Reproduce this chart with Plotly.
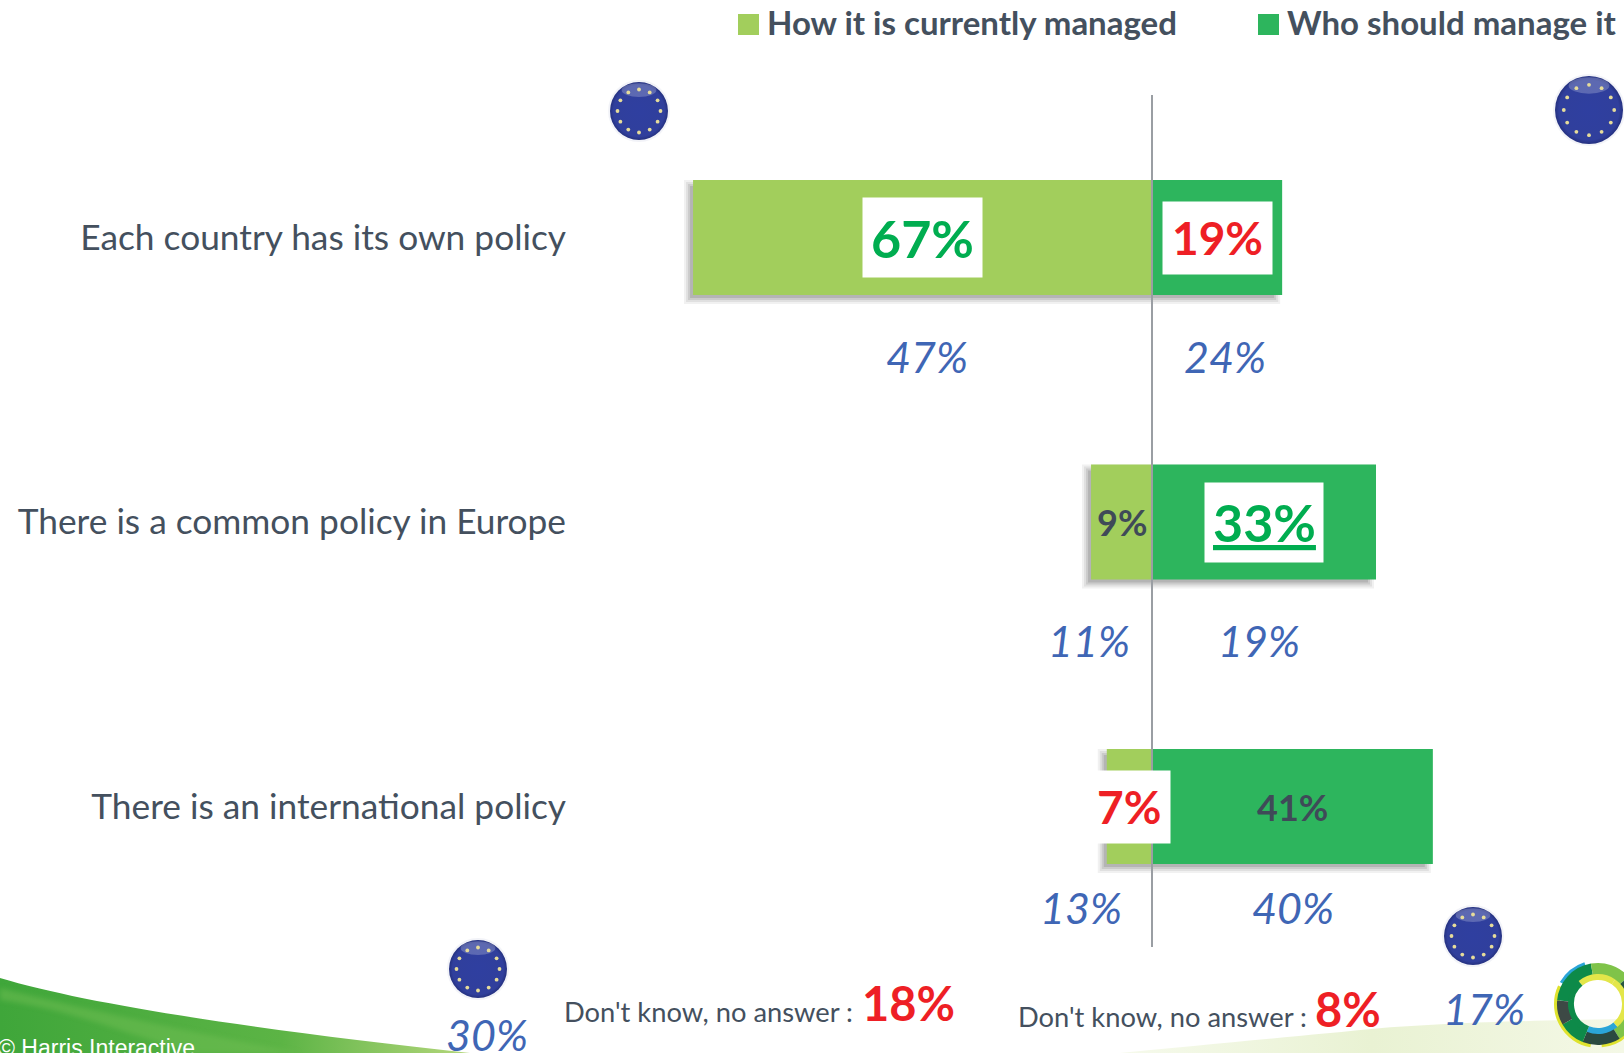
import base64, math
import plotly.graph_objects as go

categories = ["Each country has its own policy", "There is a common policy in Europe", "There is an international policy"]
current = [67, 8.9, 6.6]
should = [19, 32.7, 41]
eu_current = ["47%", "11%", "13%"]
eu_should = ["24%", "19%", "40%"]
legend_names = ["How it is currently managed", "Who should manage it"]
dk_left, dk_right = "18%", "8%"
eu_dk_left, eu_dk_right = "30%", "17%"

W, H = 1624, 1053
PXX, PXY = 6.85, 284.5
X0, Y0 = 1152, 237.5
LIGHT, DARK = "#a2ce5c", "#2db55d"
TXT, BLUE, RED, GRN = "#44505e", "#3f66b5", "#ee1f25", "#00ad50"
FONT = "Lato"

def fx(px): return px / W
def fy(py): return 1 - py / H

def flag(cx, cy, r):
    s = f'<circle cx="{cx}" cy="{cy}" r="{r+2}" fill="#e6e8f2" opacity=".5"/>'
    s += f'<circle cx="{cx}" cy="{cy}" r="{r}" fill="url(#fl)"/>'
    s += f'<ellipse cx="{cx}" cy="{cy - .72*r}" rx="{.6*r}" ry="{.24*r}" fill="white" opacity=".22"/>'
    for k in range(12):
        a = k * math.pi / 6
        s += f'<circle cx="{cx + .74*r*math.sin(a):.1f}" cy="{cy - .74*r*math.cos(a):.1f}" r="1.9" fill="#e6dc9a"/>'
    return s

def arc(cx, cy, r, a0, a1, col, w):
    p0 = (cx + r * math.cos(math.radians(a0)), cy + r * math.sin(math.radians(a0)))
    p1 = (cx + r * math.cos(math.radians(a1)), cy + r * math.sin(math.radians(a1)))
    large = 1 if (a1 - a0) > 180 else 0
    return f'<path d="M{p0[0]:.1f} {p0[1]:.1f}A{r} {r} 0 {large} 1 {p1[0]:.1f} {p1[1]:.1f}" fill="none" stroke="{col}" stroke-width="{w}"/>'

logo = "".join(arc(1598, 1004, *a) for a in [
    (41, 100, 205, "#dfe32f", 6), (41, -150, -108, "#2aa5d8", 6), (41, 40, 85, "#dfe32f", 5),
    (35, -175, -100, "#0f8a48", 12), (35, -100, -42, "#7fc34a", 12), (35, -42, 2, "#25563f", 12),
    (35, 2, 58, "#7fc34a", 12), (35, 58, 112, "#2a4a40", 12), (35, 112, 150, "#0f8a48", 12), (35, 150, 185, "#3d4a45", 12),
    (27, -55, 50, "#e3e64a", 6), (27, 50, 112, "#2aa5d8", 6), (27, 112, 230, "#0f8a48", 6), (27, 230, 305, "#e3e64a", 6),
])

svg = f'''<svg xmlns="http://www.w3.org/2000/svg" width="{W}" height="{H}" viewBox="0 0 {W} {H}">
<defs>
<radialGradient id="fl" cx=".5" cy=".5" r=".55"><stop offset="0" stop-color="#2f3fa0"/><stop offset=".8" stop-color="#303f9c"/><stop offset="1" stop-color="#1b2568"/></radialGradient>
<linearGradient id="sw" x1="0" x2="1" y1="0" y2="0"><stop offset="0" stop-color="#3fa63a"/><stop offset=".6" stop-color="#5cb445"/><stop offset="1" stop-color="#b5d77c"/></linearGradient>
<linearGradient id="pl" x1="0" x2="1" y1="0" y2="0"><stop offset="0" stop-color="#f6faec"/><stop offset=".5" stop-color="#e9f2d3"/><stop offset="1" stop-color="#f4f8e6"/></linearGradient>
<filter id="b"><feGaussianBlur stdDeviation="2.5"/></filter>
<filter id="c"><feGaussianBlur stdDeviation=".7"/></filter>
</defs>
<path d="M1120 1053C1200 1045 1300 1036 1382 1028C1450 1023 1510 1021 1624 1019V1053Z" fill="url(#pl)"/>
<path d="M0 978C90 1005 260 1030 470 1053H0Z" fill="url(#sw)"/>
<path d="M0 988C90 1010 170 1028 300 1053H190C120 1030 60 1008 0 1000Z" fill="#6fbe52" opacity=".5" filter="url(#b)"/>
{flag(639, 111, 29)}{flag(1589, 110, 34)}{flag(478, 969, 29)}{flag(1473, 936, 29)}
<g filter="url(#c)">{logo}</g>
</svg>'''
src = "data:image/svg+xml;base64," + base64.b64encode(svg.encode()).decode()

fig = go.Figure()
fig.add_bar(y=categories, x=[-v for v in current], orientation="h", marker=dict(color=LIGHT, line_width=0), name=legend_names[0], width=0.404)
fig.add_bar(y=categories, x=should, orientation="h", marker=dict(color=DARK, line_width=0), name=legend_names[1], width=0.404)

shapes, ann = [], []
for i, (c, s) in enumerate(zip(current, should)):
    for k, op in zip((9, 7, 5, 3), (0.07, 0.09, 0.12, 0.16)):
        shapes.append(dict(type="rect", layer="below", xref="x", yref="y", line_width=0, fillcolor=f"rgba(60,60,60,{op})",
                           x0=-c - k / PXX, x1=s - (9 - k) / PXX - 2 / PXX,
                           y0=i - 0.202 + (9 - k) / PXY, y1=i + 0.202 + k / PXY))
shapes.append(dict(type="line", xref="x", yref="paper", x0=0, x1=0, y0=fy(95), y1=fy(947), line=dict(color="#9a9ea3", width=2)))
for x0, col in ((738, LIGHT), (1258, DARK)):
    shapes.append(dict(type="rect", xref="paper", yref="paper", x0=fx(x0), x1=fx(x0 + 21), y0=fy(35), y1=fy(14), fillcolor=col, line_width=0))

def text(t, px, py, size, color, bold=False, italic=False, anchor="center", font=FONT):
    if bold: t = f"<b>{t}</b>"
    if italic: t = f"<i>{t}</i>"
    ann.append(dict(text=t, xref="paper", yref="paper", x=fx(px), y=fy(py), xanchor=anchor, yanchor="middle", showarrow=False,
                    font=dict(family=font, size=size, color=color)))

text(legend_names[0], 765, 22, 33, TXT, bold=True, anchor="left")
text(legend_names[1], 1285, 22, 33, TXT, bold=True, anchor="left")

def box(x, i, w, h):
    ann.append(dict(text=" ", xref="x", yref="y", x=x, y=categories[i], showarrow=False, xanchor="center", yanchor="middle",
                    width=w - 4, height=h - 4, bgcolor="white"))

def val(t, x, i, size, color):
    ann.append(dict(text=f"<b>{t}</b>", xref="x", yref="y", x=x, y=categories[i], showarrow=False, xanchor="center", yanchor="middle",
                    font=dict(family=FONT, size=size, color=color, weight=900)))

box(-current[0] / 2, 0, 121, 81)
val(f"{round(current[0])}%", -current[0] / 2, 0, 52, GRN)
box(should[0] / 2, 0, 111, 74)
val(f"{round(should[0])}%", should[0] / 2, 0, 46, RED)
val(f"{round(current[1])}%", -current[1] / 2, 1, 36, "#3f4a58")
box(should[1] / 2, 1, 120, 81)
val(f"<u>{round(should[1])}%</u>", should[1] / 2, 1, 52, GRN)
box(-current[2] / 2 + 0.5, 2, 76, 74)
val(f"{round(current[2])}%", -current[2] / 2, 2, 46, RED)
val(f"{round(should[2])}%", should[2] / 2, 2, 36, "#3f4a58")

for t, px, py in zip(eu_current, (927, 1089, 1081), (356, 640, 907)):
    text(t, px, py, 43, BLUE, italic=True)
for t, px, py in zip(eu_should, (1225, 1259, 1293), (356, 640, 907)):
    text(t, px, py, 43, BLUE, italic=True)
text(eu_dk_left, 487, 1034, 43, BLUE, italic=True)
text(eu_dk_right, 1484, 1008, 43, BLUE, italic=True)

text("Don't know, no answer :", 562, 1011, 27.3, TXT, anchor="left")
text(dk_left, 860, 1003, 47, RED, bold=True, anchor="left")
text("Don't know, no answer :", 1016, 1016, 27.3, TXT, anchor="left")
text(dk_right, 1313, 1009, 47, RED, bold=True, anchor="left")
text("© Harris Interactive", -4, 1048, 23, "white", anchor="left", font="Liberation Sans")

fig.update_layout(
    width=W, height=H, autosize=False, margin=dict(l=0, r=0, t=0, b=0, pad=0),
    paper_bgcolor="white", plot_bgcolor="rgba(0,0,0,0)", barmode="relative", showlegend=False,
    xaxis=dict(domain=[569 / W, 1], range=[(569 - X0) / PXX, (W - X0) / PXX], visible=False),
    yaxis=dict(type="category", categoryorder="array", categoryarray=categories, range=[(H - Y0) / PXY, -Y0 / PXY],
               showgrid=False, zeroline=False, showline=False, ticks="", ticklabelstandoff=2,
               tickfont=dict(family=FONT, size=35.3, color=TXT)),
    shapes=shapes, annotations=ann,
    images=[dict(source=src, xref="paper", yref="paper", x=0, y=1, sizex=1, sizey=1, xanchor="left", yanchor="top", sizing="stretch", layer="below")],
)
fig.write_html("out.html", post_script="document.body.style.margin='0';", config=dict(displayModeBar=False))
